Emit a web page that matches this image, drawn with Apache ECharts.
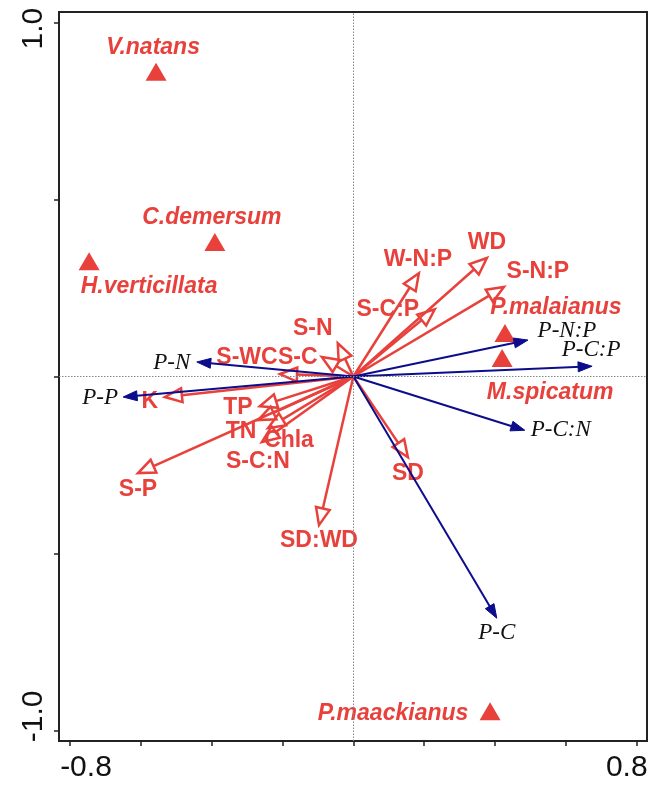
<!DOCTYPE html>
<html><head><meta charset="utf-8">
<script src="https://cdn.jsdelivr.net/npm/echarts@6/dist/echarts.min.js"></script>
<style>html,body{margin:0;padding:0;background:#fff}#c{width:653px;height:785px}</style>
</head><body><div id="c"></div>
<script>
// ---------- data ----------
const species  = ['V.natans', 'C.demersum', 'H.verticillata', 'P.malaianus', 'M.spicatum', 'P.maackianus'];
const speciesX = [-0.557, -0.391, -0.746, 0.428, 0.420, 0.386];
const speciesY = [0.861, 0.380, 0.326, 0.123, 0.052, -0.946];

const plantVars = ['P-N', 'P-P', 'P-N:P', 'P-C:P', 'P-C:N', 'P-C'];
const plantX    = [-0.442, -0.650, 0.493, 0.674, 0.484, 0.405];
const plantY    = [0.041, -0.058, 0.103, 0.029, -0.152, -0.683];

const envVars = ['WD', 'W-N:P', 'S-N:P', 'S-C:P', 'S-N', 'S-C', 'S-WC', 'K', 'TP', 'TN', 'Chla', 'S-C:N', 'S-P', 'SD:WD', 'SD'];
const envX    = [0.377, 0.185, 0.425, 0.230, -0.044, -0.089, -0.207, -0.532, -0.264, -0.269, -0.241, -0.258, -0.608, -0.097, 0.154];
const envY    = [0.335, 0.292, 0.253, 0.190, 0.094, 0.055, 0.007, -0.058, -0.084, -0.123, -0.146, -0.185, -0.273, -0.420, -0.228];

const xTicks = [-0.8, -0.6, -0.4, -0.2, 0, 0.2, 0.4, 0.6, 0.8];
const yTicks = [-1.0, -0.5, 0, 0.5, 1.0];
const xTickLabels = [-0.8, 0.8];
const yTickLabels = [-1.0, 1.0];

// ---------- layout (label centre offsets in px) ----------
const speciesLabelOffset = {
  'V.natans': [-3, -24], 'C.demersum': [-3, -24], 'H.verticillata': [60, 26],
  'P.malaianus': [51, -25], 'M.spicatum': [48, 35], 'P.maackianus': [-97, 2]
};
const plantLabelOffset = {
  'P-N': [-25, 1], 'P-P': [-23, 1], 'P-N:P': [39, -9], 'P-C:P': [-1, -16], 'P-C:N': [36, 0], 'P-C': [0, 15]
};
const envLabelOffset = {
  'WD': [0, -15], 'W-N:P': [-1, -14], 'S-N:P': [34, -15], 'S-C:P': [-47, 0],
  'S-N': [-25, -15], 'S-C': [-24, 1], 'S-WC': [-33, -16], 'K': [-15, 5],
  'TP': [-22, 1], 'TN': [-17, 12], 'Chla': [21, 12], 'S-C:N': [-4, 20],
  'S-P': [0, 17], 'SD:WD': [0, 16], 'SD': [0, 16]
};

const RED = '#e8413c';
const BLUE = '#0d0d8c';

function arrowSeries(names, xs, ys, offsets, o) {
  return {
    type: 'custom',
    coordinateSystem: 'cartesian2d',
    silent: true,
    z: o.z,
    clip: false,
    data: names.map((n, i) => [xs[i], ys[i]]),
    encode: { x: 0, y: 1 },
    renderItem: function (params, api) {
      const name = names[params.dataIndex];
      const p0 = api.coord([0, 0]);
      const p1 = api.coord([api.value(0), api.value(1)]);
      const dx = p1[0] - p0[0], dy = p1[1] - p0[1];
      const L = Math.hypot(dx, dy) || 1;
      const ux = dx / L, uy = dy / L;
      const bx = p1[0] - ux * o.headLen, by = p1[1] - uy * o.headLen;
      const nx = -uy, ny = ux;
      const off = offsets[name] || [0, 0];
      return {
        type: 'group',
        children: [
          { type: 'line', shape: { x1: p0[0], y1: p0[1], x2: o.hollow ? bx : bx + ux * 3, y2: o.hollow ? by : by + uy * 3 },
            style: { stroke: o.color, lineWidth: o.lw } },
          { type: 'polygon', shape: { points: [[p1[0], p1[1]], [bx + nx * o.headHalf, by + ny * o.headHalf], [bx - nx * o.headHalf, by - ny * o.headHalf]] },
            style: { fill: o.hollow ? 'none' : o.color, stroke: o.color, lineWidth: o.hollow ? o.lw : 1, lineJoin: 'miter' } },
          { type: 'text', x: p1[0] + off[0], y: p1[1] + off[1],
            style: { text: name, font: o.font, fill: o.textColor, align: 'center', verticalAlign: 'middle' } }
        ]
      };
    }
  };
}

const chart = echarts.init(document.getElementById('c'), null, { renderer: 'canvas' });
chart.setOption({
  animation: false,
  backgroundColor: '#fff',
  grid: { left: 59, top: 12, width: 588, height: 729, show: true, borderColor: '#222', borderWidth: 2, backgroundColor: 'transparent' },
  xAxis: {
    type: 'value', min: -0.831, max: 0.829,
    splitLine: { show: false },
    axisLine: { show: true, onZero: false, lineStyle: { color: '#222', width: 2 } },
    axisTick: { show: true, inside: false, length: 5, lineStyle: { color: '#222', width: 1.5 }, customValues: xTicks },
    axisLabel: {
      customValues: xTickLabels, margin: 12, color: '#111',
      fontFamily: '"Liberation Sans", Arial, sans-serif', fontSize: 30,
      formatter: v => (v < 0 ? '{l|' : '{r|') + v.toFixed(1) + '}',
      rich: {
        l: { fontSize: 30, fontFamily: '"Liberation Sans", Arial, sans-serif', color: '#111', padding: [0, 0, 0, 32] },
        r: { fontSize: 30, fontFamily: '"Liberation Sans", Arial, sans-serif', color: '#111', padding: [0, 20, 0, 0] }
      }
    }
  },
  yAxis: {
    type: 'value', min: -1.03, max: 1.03,
    splitLine: { show: false },
    axisLine: { show: true, onZero: false, lineStyle: { color: '#222', width: 2 } },
    axisTick: { show: true, inside: false, length: 5, lineStyle: { color: '#222', width: 1.5 }, customValues: yTicks },
    axisLabel: {
      customValues: yTickLabels, margin: 10, rotate: 90, color: '#111',
      fontFamily: '"Liberation Sans", Arial, sans-serif', fontSize: 30,
      formatter: v => (v < 0 ? '{l|' : '{r|') + v.toFixed(1) + '}',
      rich: {
        l: { fontSize: 30, fontFamily: '"Liberation Sans", Arial, sans-serif', color: '#111', padding: [0, 0, 0, 28] },
        r: { fontSize: 30, fontFamily: '"Liberation Sans", Arial, sans-serif', color: '#111', padding: [0, 12, 0, 0] }
      }
    }
  },
  series: [
    arrowSeries(envVars, envX, envY, envLabelOffset, {
      z: 2, color: RED, lw: 2.5, headLen: 17, headHalf: 7, hollow: true,
      font: 'bold 23px "Liberation Sans", Arial, sans-serif', textColor: RED
    }),
    {
      type: 'scatter', z: 3, silent: true,
      symbol: 'triangle', symbolSize: [21, 18],
      itemStyle: { color: RED, opacity: 1 },
      data: species.map((n, i) => ({
        value: [speciesX[i], speciesY[i]], name: n,
        label: { offset: speciesLabelOffset[n] }
      })),
      label: {
        show: true, position: 'inside', formatter: p => p.name, opacity: 1,
        color: RED, fontSize: 23, fontWeight: 'bold', fontStyle: 'italic',
        fontFamily: '"Liberation Sans", Arial, sans-serif'
      },
      markLine: {
        silent: true, symbol: ['none', 'none'], label: { show: false },
        lineStyle: { color: '#888', width: 1, type: [1.5, 1.5], opacity: 1 },
        data: [{ xAxis: 0 }, { yAxis: 0 }]
      }
    },
    arrowSeries(plantVars, plantX, plantY, plantLabelOffset, {
      z: 4, color: BLUE, lw: 2, headLen: 14, headHalf: 5, hollow: false,
      font: 'italic 23px "Liberation Serif", "Times New Roman", serif', textColor: '#111'
    })
  ]
});
</script>
</body></html>
